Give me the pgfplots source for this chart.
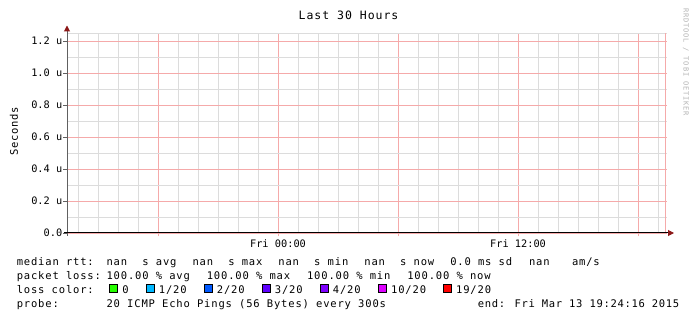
\documentclass[border=0pt]{standalone}
\usepackage{fontspec}
\usepackage{pgfplots}
\pgfplotsset{compat=1.18}
\usetikzlibrary{arrows.meta}
\newfontfamily\legfont[LetterSpace=6.5]{DejaVu Sans Mono}
\newfontfamily\legfontB[LetterSpace=7.9]{DejaVu Sans Mono}
\newfontfamily\titfont[LetterSpace=8.5]{DejaVu Sans Mono}
\newfontfamily\tickfam{DejaVu Sans Mono}
\newfontfamily\wmfont[LetterSpace=12]{DejaVu Sans Mono}
\newcommand\legtext{\legfont\fontsize{10.5bp}{12bp}\selectfont}
\newcommand\legtextB{\legfontB\fontsize{10.5bp}{12bp}\selectfont}
\newcommand\tickfont{\tickfam\fontsize{10.3bp}{12bp}\selectfont}
\definecolor{mred}{RGB}{245,170,170}
\definecolor{mgray}{RGB}{220,220,220}
\definecolor{axgray}{RGB}{96,96,96}
\definecolor{arrowred}{RGB}{140,24,24}
\definecolor{wmgray}{RGB}{180,180,180}
\definecolor{lc0}{HTML}{26FF00}
\definecolor{lc1}{HTML}{00B8FF}
\definecolor{lc2}{HTML}{0059FF}
\definecolor{lc3}{HTML}{5E00FF}
\definecolor{lc4}{HTML}{7E00FF}
\definecolor{lc10}{HTML}{DD00FF}
\definecolor{lc19}{HTML}{FF0000}
\newcommand\lt[3]{\node[anchor=base west,inner sep=0pt,font=\legtextB] at ({(106.4+7.16*(#1-13))*1bp},{#2*1bp}) {#3};}
\newcommand\lf[2]{\node[anchor=base west,inner sep=0pt,font=\legtextB] at (16.6bp,{#1*1bp}) {#2};}
\newcommand\lbox[3]{\draw[black,line width=0.8bp,fill=#2] (#1bp,28.3bp) rectangle ++(8bp,8bp);
  \node[anchor=base west,inner sep=0pt,font=\legtextB] at ({(#1+12.7)*1bp},28bp) {#3};}
\begin{document}
\begin{tikzpicture}
\fill[white] (0bp,0bp) rectangle (697bp,321bp);
\begin{axis}[
  at={(67bp,88bp)}, anchor=south west, scale only axis,
  width=600bp, height=200bp,
  xmin=-10.55, xmax=19.45, ymin=0, ymax=1.25,
  clip=false,
  axis line style={draw=none},
  tick pos=left, tick align=outside,
  xtick={-6,0,6,12,18}, xticklabels={,Fri 00:00,,Fri 12:00,},
  minor xtick={-10,-9,-8,-7,-5,-4,-3,-2,-1,1,2,3,4,5,7,8,9,10,11,13,14,15,16,17,19},
  ytick={0,0.2,0.4,0.6,0.8,1.0,1.2},
  yticklabels={0.0,0.2 u,0.4 u,0.6 u,0.8 u,1.0 u,1.2 u},
  minor ytick={0.1,0.3,0.5,0.7,0.9,1.1},
  grid=both,
  major grid style={draw=mred, line width=0.6bp},
  minor grid style={draw=mgray, line width=0.6bp},
  major tick length=3.5bp, minor tick length=0pt,
  xtick style={draw=mred, line width=0.6bp},
  ytick style={draw=axgray, line width=0.8bp},
  ticklabel style={font=\tickfont, inner sep=1bp},
  xticklabel style={yshift=-2bp},
]
\draw[mgray, line width=0.6bp] (axis cs:-10.55,1.25) -- (axis cs:19.45,1.25);
\draw[mred, line width=0.6bp] (axis cs:19.385,0) -- (axis cs:19.385,1.25);
\draw[axgray, line width=1bp, -{Triangle[length=6bp,width=6bp,color=arrowred]}]
  ([yshift=-3bp]axis cs:-10.55,0) -- ([yshift=7.5bp]axis cs:-10.55,1.25);
\draw[black, line width=1bp, -{Triangle[length=6bp,width=6bp,color=arrowred]}]
  ([xshift=-3bp]axis cs:-10.55,0) -- ([xshift=7bp]axis cs:19.45,0);
\end{axis}
% title, axis label, watermark
\node[anchor=base, inner sep=0pt, font=\titfont\fontsize{11.5bp}{13bp}\selectfont] at (348.5bp,301bp) {Last 30 Hours};
\node[rotate=90, inner sep=0pt, font=\legtext] at (14bp,189.5bp) {Seconds};
\node[rotate=-90, inner sep=0pt, text=wmgray, font=\wmfont\fontsize{7bp}{8bp}\selectfont] at (686bp,259bp) {RRDTOOL / TOBI OETIKER};
% legend line 1
\lf{56}{median rtt:}
\lt{13}{56}{nan}
\lt{18}{56}{s avg}
\lt{25}{56}{nan}
\lt{30}{56}{s max}
\lt{37}{56}{nan}
\lt{42}{56}{s min}
\lt{49}{56}{nan}
\lt{54}{56}{s now}
\lt{61}{56}{0.0 ms sd}
\lt{72}{56}{nan}
\lt{78}{56}{am/s}
% legend line 2
\lf{42}{packet loss:}
\lt{13}{42}{100.00 \% avg}
\lt{27}{42}{100.00 \% max}
\lt{41}{42}{100.00 \% min}
\lt{55}{42}{100.00 \% now}
% legend line 3
\lf{28}{loss color:}
\lbox{109.5}{lc0}{0}
\lbox{146}{lc1}{1/20}
\lbox{204}{lc2}{2/20}
\lbox{262}{lc3}{3/20}
\lbox{320}{lc4}{4/20}
\lbox{378.3}{lc10}{10/20}
\lbox{443.3}{lc19}{19/20}
% legend line 4
\lf{14}{probe:}
\lt{13}{14}{20 ICMP Echo Pings (56 Bytes) every 300s}
\node[anchor=base west,inner sep=0pt,font=\legtext] at (477.7bp,14bp) {end: Fri Mar 13 19:24:16 2015};
\end{tikzpicture}
\end{document}
